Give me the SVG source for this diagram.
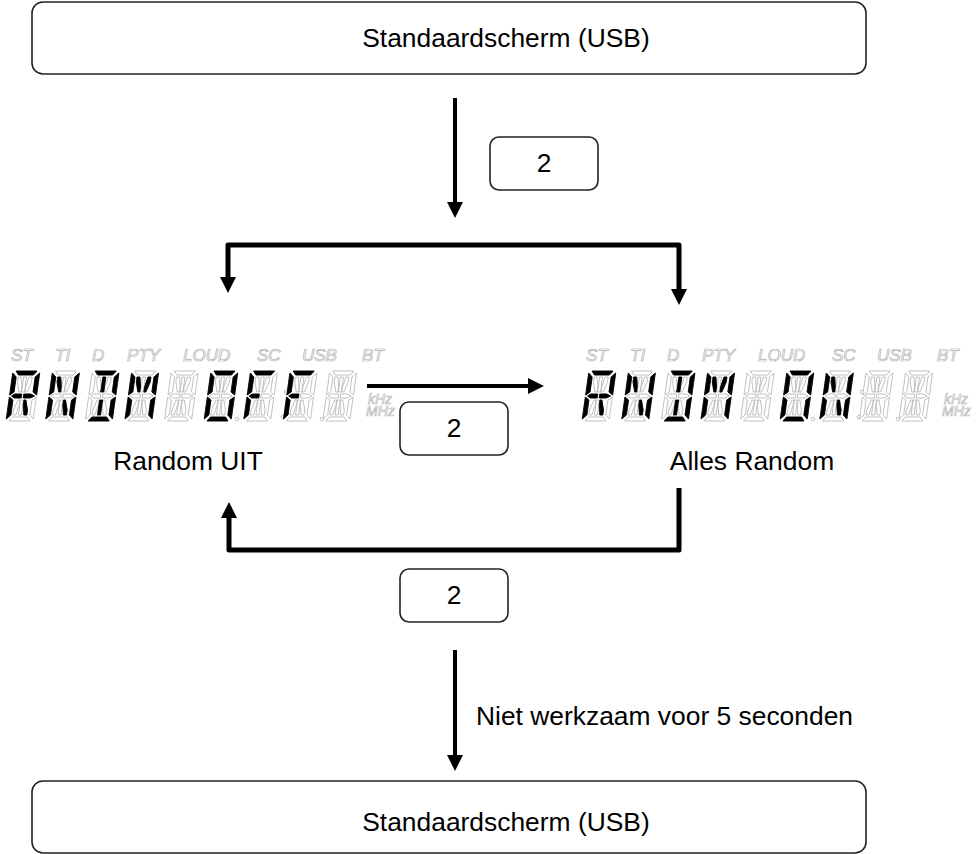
<svg xmlns="http://www.w3.org/2000/svg" xmlns:xlink="http://www.w3.org/1999/xlink" width="979" height="854" viewBox="0 0 979 854">
<style>
.box{fill:#fff;stroke:#222;stroke-width:1.6}
.t{font-family:"Liberation Sans",Arial,sans-serif;font-size:26.4px;fill:#000}
.tc{text-anchor:middle}
.conn{fill:none;stroke:#000;stroke-width:5;stroke-linejoin:round}
.off{fill:#fff;stroke:#b4b4b4;stroke-width:0.8}
.on{fill:#000;stroke:#000;stroke-width:0.8}
.ind{font-family:"Liberation Sans",Arial,sans-serif;font-style:italic;font-size:17px;fill:#fff;stroke:#b0b0b0;stroke-width:0.7}
.unit{font-family:"Liberation Sans",Arial,sans-serif;font-style:italic;font-size:14px;fill:#fff;stroke:#b0b0b0;stroke-width:0.6}
.dot{fill:#fff;stroke:#b4b4b4;stroke-width:0.8}
</style>
<defs>
<marker id="ah" viewBox="0 0 16 16" refX="0" refY="8" markerWidth="16" markerHeight="16" markerUnits="userSpaceOnUse" orient="auto">
<path d="M0,0 L16,8 L0,16 z" fill="#000"/>
</marker>
<polygon id="sa" points="4,0 25,0 22,4 7,4"/>
<polygon id="sd" points="4,50 25,50 22,46 7,46"/>
<polygon id="sf" points="1,2 5,6 5,21 1,24"/>
<polygon id="se" points="1,26 5,29 5,44 1,48"/>
<polygon id="sb" points="28,2 24,6 24,21 28,24"/>
<polygon id="sc" points="28,26 24,29 24,44 28,48"/>
<polygon id="sg1" points="3,25 6,23 13,23 13,27 6,27"/>
<polygon id="sg2" points="15,23 22,23 26,25 22,27 15,27"/>
<polygon id="si" points="12.5,6 15.5,6 15.5,21 12.5,21"/>
<polygon id="sl" points="12.5,29 15.5,29 15.5,44 12.5,44"/>
<polygon id="sh" points="7,6 10,6 12,16 12,21 10,21 7,11"/>
<polygon id="sj" points="21,6 18,6 16,16 16,21 18,21 21,11"/>
<polygon id="sk" points="7,44 10,44 12,34 12,29 10,29 7,39"/>
<polygon id="sm" points="21,44 18,44 16,34 16,29 18,29 21,39"/>
<g id="blank" class="off">
<use xlink:href="#sa"/><use xlink:href="#sd"/><use xlink:href="#sf"/><use xlink:href="#se"/><use xlink:href="#sb"/><use xlink:href="#sc"/><use xlink:href="#sg1"/><use xlink:href="#sg2"/><use xlink:href="#si"/><use xlink:href="#sl"/><use xlink:href="#sh"/><use xlink:href="#sj"/><use xlink:href="#sk"/><use xlink:href="#sm"/>
</g>
<g id="cR"><use xlink:href="#blank"/><g class="on"><use xlink:href="#sa"/><use xlink:href="#sf"/><use xlink:href="#sb"/><use xlink:href="#sg1"/><use xlink:href="#sg2"/><use xlink:href="#se"/><use xlink:href="#sm"/></g></g>
<g id="cN"><use xlink:href="#blank"/><g class="on"><use xlink:href="#sf"/><use xlink:href="#se"/><use xlink:href="#sb"/><use xlink:href="#sc"/><use xlink:href="#sh"/><use xlink:href="#sm"/></g></g>
<g id="cD"><use xlink:href="#blank"/><g class="on"><use xlink:href="#sa"/><use xlink:href="#sb"/><use xlink:href="#sc"/><use xlink:href="#sd"/><use xlink:href="#si"/><use xlink:href="#sl"/></g></g>
<g id="cM"><use xlink:href="#blank"/><g class="on"><use xlink:href="#sf"/><use xlink:href="#se"/><use xlink:href="#sb"/><use xlink:href="#sc"/><use xlink:href="#sh"/><use xlink:href="#sj"/></g></g>
<g id="cO"><use xlink:href="#blank"/><g class="on"><use xlink:href="#sa"/><use xlink:href="#sb"/><use xlink:href="#sc"/><use xlink:href="#sd"/><use xlink:href="#se"/><use xlink:href="#sf"/></g></g>
<g id="cF"><use xlink:href="#blank"/><g class="on"><use xlink:href="#sa"/><use xlink:href="#sf"/><use xlink:href="#se"/><use xlink:href="#sg1"/></g></g>
<g id="inds">
<text class="ind" x="11" y="361">ST</text>
<text class="ind" x="55" y="361">TI</text>
<text class="ind" x="92" y="361">D</text>
<text class="ind" x="127" y="361">PTY</text>
<text class="ind" x="183" y="361">LOUD</text>
<text class="ind" x="257" y="361">SC</text>
<text class="ind" x="302" y="361">USB</text>
<text class="ind" x="362" y="361">BT</text>
</g>
<g id="extras">
<circle class="dot" cx="237" cy="419" r="1.8"/>
<circle class="dot" cx="286" cy="392" r="1.8"/>
<circle class="dot" cx="283" cy="417" r="1.8"/>
<circle class="dot" cx="322" cy="419" r="1.8"/>
<text class="unit" x="368" y="404">kHz</text>
<text class="unit" x="366" y="416">MHz</text>
</g>
</defs>

<g id="start">
<rect class="box" x="32" y="2" width="834" height="72" rx="11"/>
<text class="t tc" x="506" y="47">Standaardscherm (USB)</text>
</g>

<g id="key1">
<rect class="box" x="490" y="137" width="108" height="53" rx="9"/>
<text class="t tc" x="544" y="172">2</text>
</g>

<g id="random-uit">
<use xlink:href="#inds"/>
<use xlink:href="#extras"/>
<use xlink:href="#cR" transform="translate(12,371) skewX(-8)"/>
<use xlink:href="#cN" transform="translate(51.6,371) skewX(-8)"/>
<use xlink:href="#cD" transform="translate(91.2,371) skewX(-8)"/>
<use xlink:href="#cM" transform="translate(130.8,371) skewX(-8)"/>
<use xlink:href="#blank" transform="translate(170.4,371) skewX(-8)"/>
<use xlink:href="#cO" transform="translate(210,371) skewX(-8)"/>
<use xlink:href="#cF" transform="translate(249.6,371) skewX(-8)"/>
<use xlink:href="#cF" transform="translate(289.2,371) skewX(-8)"/>
<use xlink:href="#blank" transform="translate(328.8,371) skewX(-8)"/>
<text class="t tc" x="188" y="470">Random UIT</text>
</g>

<g id="alles-random">
<use xlink:href="#inds" transform="translate(575,0)"/>
<use xlink:href="#extras" transform="translate(576,0)"/>
<use xlink:href="#cR" transform="translate(588,371) skewX(-8)"/>
<use xlink:href="#cN" transform="translate(627.6,371) skewX(-8)"/>
<use xlink:href="#cD" transform="translate(667.2,371) skewX(-8)"/>
<use xlink:href="#cM" transform="translate(706.8,371) skewX(-8)"/>
<use xlink:href="#blank" transform="translate(746.4,371) skewX(-8)"/>
<use xlink:href="#cO" transform="translate(786,371) skewX(-8)"/>
<use xlink:href="#cN" transform="translate(825.6,371) skewX(-8)"/>
<use xlink:href="#blank" transform="translate(865.2,371) skewX(-8)"/>
<use xlink:href="#blank" transform="translate(904.8,371) skewX(-8)"/>
<text class="t tc" x="752" y="470">Alles Random</text>
</g>

<g id="key2">
<rect class="box" x="400" y="402" width="108" height="53" rx="9"/>
<text class="t tc" x="454" y="437">2</text>
</g>

<g id="key3">
<rect class="box" x="400" y="569" width="108" height="53" rx="9"/>
<text class="t tc" x="454" y="604">2</text>
</g>

<g id="end">
<rect class="box" x="32" y="781" width="834" height="72" rx="11"/>
<text class="t tc" x="506" y="831">Standaardscherm (USB)</text>
</g>

<g id="connectors">
<path class="conn" style="stroke-width:4" d="M455,98 V202" marker-end="url(#ah)"/>
<path class="conn" d="M455,245 H228 V277" marker-end="url(#ah)"/>
<path class="conn" d="M455,245 H679 V289" marker-end="url(#ah)"/>
<path class="conn" style="stroke-width:4" d="M367,386 H528" marker-end="url(#ah)"/>
<path class="conn" d="M679,488 V550 H229 V518" marker-end="url(#ah)"/>
<path class="conn" style="stroke-width:4" d="M455,650 V755" marker-end="url(#ah)"/>
<text class="t" x="476" y="725">Niet werkzaam voor 5 seconden</text>
</g>
</svg>
